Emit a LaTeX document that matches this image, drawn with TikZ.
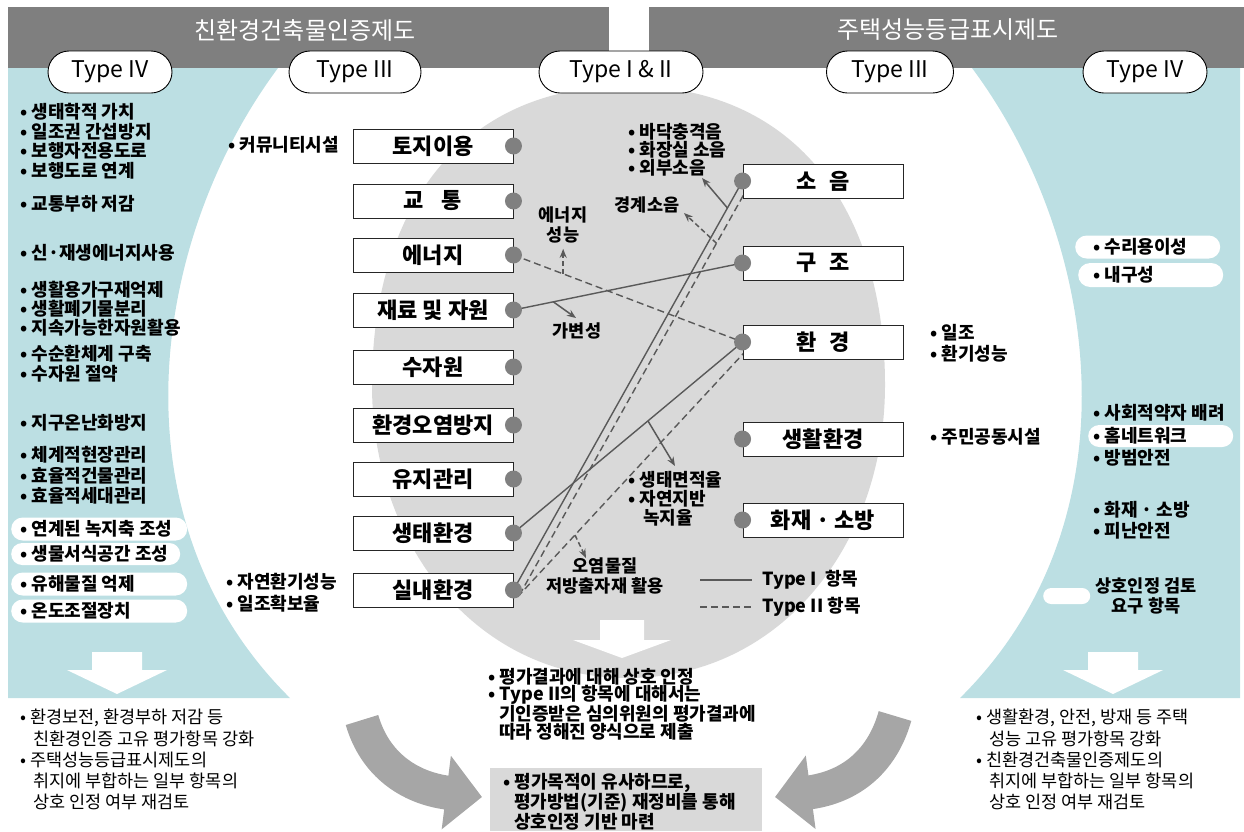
\documentclass[tikz,border=0pt]{standalone}
\usepackage{fontspec}
\setmainfont{Noto Sans CJK KR}
\usetikzlibrary{arrows.meta,calc,shapes.misc}
\pgfdeclarelayer{bg}
\pgfdeclarelayer{mid}
\pgfsetlayers{bg,mid,main}
\definecolor{bannerc}{HTML}{7F7F7F}
\definecolor{tealc}{HTML}{BCDFE3}
\definecolor{eggc}{HTML}{D9D9D9}
\definecolor{dotc}{HTML}{808080}
\definecolor{linec}{HTML}{595959}
\definecolor{swooshc}{HTML}{A6A6A6}
\begin{document}
\begin{tikzpicture}[x=1pt,y=-1pt,
  itm/.style={anchor=west, inner sep=0pt, font=\bfseries\fontsize{18}{19.5}\selectfont},
  ctr/.style={inner sep=0pt, align=center, font=\bfseries\fontsize{17.5}{19.5}\selectfont},
  note/.style={anchor=west, inner sep=0pt, font=\fontsize{17.5}{20}\selectfont},
  boxn/.style={draw=black!85, fill=white, line width=0.9pt, minimum width=160pt, minimum height=34pt, inner sep=0pt, font=\bfseries\fontsize{22}{24}\selectfont},
  typeo/.style={rounded rectangle, draw=black, fill=white, line width=0.9pt, minimum height=42pt, inner sep=0pt, font=\fontsize{23}{25}\selectfont},
  dotn/.style={circle, fill=dotc, minimum size=17pt, inner sep=0pt},
  pill/.style={rounded rectangle, fill=white, inner sep=0pt, anchor=west},
  conn/.style={draw=linec, line width=1.4pt},
  dconn/.style={conn, dash pattern=on 7pt off 4pt},
  br/.style={draw=linec, line width=1.5pt, -{Stealth[length=9pt,width=7pt]}},
  dbr/.style={br, dash pattern=on 5pt off 3pt},
  swoosh/.style={draw=swooshc, line width=34pt, -{Triangle[length=36pt,width=72pt]}},
]
\useasboundingbox (0,0) rectangle (1244,831);

% ---------- background ----------
\begin{pgfonlayer}{bg}
\fill[bannerc] (8,7) rectangle (609,68);
\fill[bannerc] (649,7) rectangle (1244,68);
\fill[tealc] (8,68) -- (278,68) .. controls (150,240) and (110,520) .. (290,698) -- (8,698) -- cycle;
\fill[tealc] (1240,68) -- (972,68) .. controls (1100,240) and (1140,520) .. (960,698) -- (1240,698) -- cycle;
\fill[eggc] (628,86) .. controls (800,86) and (885,215) .. (885,385) .. controls (885,545) and (780,678) .. (628,678) .. controls (476,678) and (372,545) .. (372,385) .. controls (372,215) and (456,86) .. (628,86) -- cycle;
\fill[white] (92,652) -- (142,652) -- (142,670) -- (167,670) -- (117,694) -- (67,670) -- (92,670) -- cycle;
\fill[white] (1088,652) -- (1138,652) -- (1138,670) -- (1163,670) -- (1113,694) -- (1063,670) -- (1088,670) -- cycle;
\fill[white] (600,620) -- (644,620) -- (644,640) -- (671,640) -- (622,658) -- (573,640) -- (600,640) -- cycle;
\fill[eggc] (490,768) rectangle (762,831);
\end{pgfonlayer}

% ---------- banner texts and type ovals ----------
\node[text=white, font=\fontsize{24}{26}\selectfont] (bn1) at (305,30) {친환경건축물인증제도};
\node[text=white, font=\fontsize{24}{26}\selectfont] (bn2) at (948,30) {주택성능등급표시제도};
\node[typeo, minimum width=124pt] (ty1) at (110,72) {Type IV};
\node[typeo, minimum width=132pt] (ty2) at (355,72) {Type III};
\node[typeo, minimum width=164pt] (ty3) at (621,72) {Type I \& II};
\node[typeo, minimum width=127pt] (ty4) at (890,72) {Type III};
\node[typeo, minimum width=124pt] (ty5) at (1145,72) {Type IV};

% ---------- pills ----------
\node[pill, minimum width=176pt, minimum height=23pt] (p1) at (11,529) {};
\node[pill, minimum width=169pt, minimum height=22pt] (p2) at (11,554) {};
\node[pill, minimum width=176pt, minimum height=23pt] (p3) at (11,584) {};
\node[pill, minimum width=176pt, minimum height=23pt] (p4) at (11,611) {};
\node[pill, minimum width=145pt, minimum height=23pt] (p5) at (1075,247) {};
\node[pill, minimum width=145pt, minimum height=24pt] (p6) at (1078,275) {};
\node[pill, minimum width=145pt, minimum height=22pt] (p7) at (1088,436) {};
\node[pill, minimum width=47pt, minimum height=16pt] (p8) at (1043,596) {};

% ---------- left Type IV list ----------
\foreach \yy/\txt [count=\i] in {112/생태학적 가치, 132/일조권 간섭방지, 151/보행자전용도로, 171/보행도로 연계, 204/교통부하 저감, 253/신·재생에너지사용, 290/생활용가구재억제, 309/생활폐기물분리, 328/지속가능한자원활용, 354/수순환체계 구축, 374/수자원 절약, 423/지구온난화방지, 455/체계적현장관리, 476/효율적건물관리, 496/효율적세대관리, 529/연계된 녹지축 조성, 554/생물서식공간 조성, 584/유해물질 억제, 611/온도조절장치}
  \node[itm] (lf\i) at (20,\yy) {• \txt};

% ---------- right Type IV list ----------
\foreach \yy/\txt [count=\i] in {247/수리용이성, 275/내구성, 413/사회적약자 배려, 436/홈네트워크, 458/방범안전, 510/화재 · 소방, 531/피난안전}
  \node[itm] (rt\i) at (1093,\yy) {• \txt};
\node[ctr] (lgt) at (1146,596) {상호인정 검토\\요구 항목};

% ---------- Type III labels ----------
\node[itm] (t3a) at (228,145) {• 커뮤니티시설};
\node[itm] (t3b) at (226,582) {• 자연환기성능};
\node[itm] (t3c) at (226,604) {• 일조확보율};
\node[itm] (t3d) at (930,333) {• 일조};
\node[itm] (t3e) at (930,354) {• 환기성능};
\node[itm] (t3f) at (930,437) {• 주민공동시설};

% ---------- boxes ----------
\node[boxn] (b1) at (433,146) {토지이용};
\node[boxn] (b2) at (433,201) {교\hspace{0.8em}통};
\node[boxn] (b3) at (433,255) {에너지};
\node[boxn] (b4) at (433,310) {재료 및 자원};
\node[boxn] (b5) at (433,367) {수자원};
\node[boxn] (b6) at (433,425) {환경오염방지};
\node[boxn] (b7) at (433,479) {유지관리};
\node[boxn] (b8) at (433,533) {생태환경};
\node[boxn] (b9) at (433,590) {실내환경};
\node[boxn] (r1) at (823,181) {소\hspace{0.6em}음};
\node[boxn] (r2) at (823,263) {구\hspace{0.6em}조};
\node[boxn] (r3) at (823,342) {환\hspace{0.6em}경};
\node[boxn] (r4) at (823,439) {생활환경};
\node[boxn] (r5) at (823,520) {화재 · 소방};

\foreach \i in {1,...,9} \node[dotn] (d\i) at (b\i.east) {};
\foreach \i in {1,...,5} \node[dotn] (e\i) at (r\i.west) {};

% ---------- connectors ----------
\begin{pgfonlayer}{mid}
\draw[conn] (d4.center) -- (e2.center);
\draw[dconn] (d3.center) -- (e3.center);
\draw[conn] (d9.center) -- (e1.center);
\coordinate (q1) at ($(d9.center)+(6,5)$);
\coordinate (q2) at ($(e1.center)+(6,5)$);
\draw[dconn] (q1) -- (q2);
\draw[conn] (d8.center) -- (e3.center);
\coordinate (q3) at ($(d9.center)+(4,7)$);
\coordinate (q4) at ($(e3.center)+(5,7)$);
\draw[dconn] (q3) -- (q4);

\coordinate (s1) at ($(d4.center)!0.174!(e2.center)$);
\coordinate (t1) at (576,318);
\draw[br] (s1) -- (t1);
\coordinate (s2) at ($(d3.center)!0.217!(e3.center)$);
\draw[dbr] (s2) -- ++(0,-25) coordinate (t2);
\coordinate (s3) at ($(d9.center)!0.934!(e1.center)$);
\coordinate (t3) at (702,178);
\draw[br] (s3) -- (t3);
\coordinate (s4) at ($(q1)!0.86!(q2)$);
\coordinate (t4) at (684,213);
\draw[dbr] (s4) -- (t4);
\coordinate (s5) at ($(d8.center)!0.587!(e3.center)$);
\coordinate (t5) at (675,466);
\draw[br] (s5) -- (t5);
\coordinate (s6) at ($(q3)!0.25!(q4)$);
\coordinate (t6) at (586,558);
\draw[dbr] (s6) -- (t6);
\end{pgfonlayer}

% ---------- connector labels ----------
\node[ctr] (lb1) at (577,331) {가변성};
\node[ctr] (lb2) at (563,225) {에너지\\성능};
\node[itm] (lb3a) at (628,132) {• 바닥충격음};
\node[itm] (lb3b) at (628,150) {• 화장실 소음};
\node[itm] (lb3c) at (628,168) {• 외부소음};
\node[ctr] (lb4) at (647,205) {경계소음};
\node[itm] (lb5a) at (628,480) {• 생태면적율};
\node[itm] (lb5b) at (628,499) {• 자연지반};
\node[itm] (lb5c) at (643,518) {녹지율};
\node[ctr] (lb6) at (605,576) {오염물질\\저방출자재 활용};

% ---------- legend ----------
\coordinate (lg1a) at (700,580);
\coordinate (lg1b) at (752,580);
\coordinate (lg2a) at (700,607);
\coordinate (lg2b) at (752,607);
\draw[conn] (lg1a) -- (lg1b);
\draw[dconn] (lg2a) -- (lg2b);
\node[itm] (lg1) at (762,580) {Type I\ \ 항목};
\node[itm] (lg2) at (762,607) {Type II 항목};

% ---------- bottom texts ----------
\node[itm] (c1) at (488,677) {• 평가결과에 대해 상호 인정};
\node[itm] (c2) at (488,695) {• Type II의 항목에 대해서는};
\node[itm] (c3) at (499,714) {기인증받은 심의위원의 평가결과에};
\node[itm] (c4) at (499,732) {따라 정해진 양식으로 제출};
\node[itm] (g1) at (503,783) {• 평가목적이 유사하므로,};
\node[itm] (g2) at (514,803) {평가방법(기준) 재정비를 통해};
\node[itm] (g3) at (514,822) {상호인정 기반 마련};

\node[note] (bl1) at (20,718) {• 환경보전, 환경부하 저감 등};
\node[note] (bl2) at (33,739) {친환경인증 고유 평가항목 강화};
\node[note] (bl3) at (20,760) {• 주택성능등급표시제도의};
\node[note] (bl4) at (33,781) {취지에 부합하는 일부 항목의};
\node[note] (bl5) at (33,802) {상호 인정 여부 재검토};

\node[note] (br1) at (976,718) {• 생활환경, 안전, 방재 등 주택};
\node[note] (br2) at (989,739) {성능 고유 평가항목 강화};
\node[note] (br3) at (976,760) {• 친환경건축물인증제도의};
\node[note] (br4) at (989,781) {취지에 부합하는 일부 항목의};
\node[note] (br5) at (989,802) {상호 인정 여부 재검토};

% ---------- swooshes ----------
\coordinate (sw1a) at (362,720);
\coordinate (sw1b) at (482,797);
\draw[swoosh] (sw1a) .. controls (375,765) and (410,788) .. (sw1b);
\coordinate (sw2a) at (895,716);
\coordinate (sw2b) at (775,797);
\draw[swoosh] (sw2a) .. controls (882,762) and (850,787) .. (sw2b);
\end{tikzpicture}
\end{document}
